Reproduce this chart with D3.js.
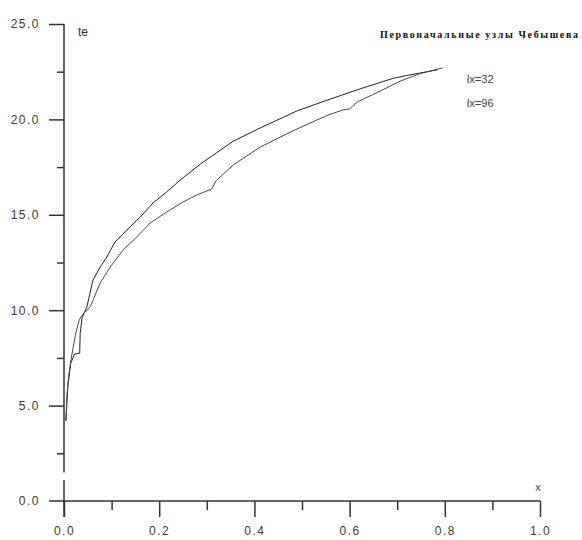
<!DOCTYPE html>
<html>
<head>
<meta charset="utf-8">
<script src="https://cdn.jsdelivr.net/npm/d3@7"></script>
<style>
  body { margin: 0; background: #fff; }
</style>
</head>
<body>
<div id="graf"></div>
<script>
// Кривые te(x), узлы Чебышева

// Данные
lx32_x = [0.004, 0.008, 0.014, 0.022, 0.033, 0.034, 0.038, 0.048, 0.061, 0.076, 0.090, 0.107, 0.132, 0.160, 0.187, 0.216, 0.244, 0.286, 0.355, 0.412, 0.490, 0.552, 0.622, 0.691, 0.720, 0.763, 0.785]
lx32_y = [4.2, 6.0, 7.2, 7.7, 7.75, 8.8, 9.6, 10.17, 11.58, 12.26, 12.79, 13.57, 14.2, 14.88, 15.62, 16.2, 16.82, 17.65, 18.85, 19.55, 20.45, 21.0, 21.6, 22.15, 22.3, 22.5, 22.6]

lx96_x = [0.004, 0.006, 0.010, 0.016, 0.024, 0.032, 0.040, 0.055, 0.076, 0.097, 0.124, 0.153, 0.181, 0.216, 0.250, 0.279, 0.300, 0.310, 0.320, 0.355, 0.412, 0.481, 0.552, 0.586, 0.600, 0.615, 0.657, 0.706, 0.748, 0.796]
lx96_y = [4.2, 5.5, 6.6, 7.6, 8.7, 9.5, 9.8, 10.17, 11.43, 12.26, 13.15, 13.84, 14.57, 15.15, 15.67, 16.04, 16.25, 16.35, 16.8, 17.6, 18.55, 19.4, 20.2, 20.5, 20.55, 20.9, 21.4, 22.0, 22.4, 22.7]

yMajor = [5, 10, 15, 20, 25]
yMinor = [2.5, 7.5, 12.5, 17.5, 22.5]
xMajor = [0, 0.2, 0.4, 0.6, 0.8, 1.0]
xMinor = [0.1, 0.3, 0.5, 0.7, 0.9]

leyenda = ['lx=32', 'lx=96']
titulo = 'Первоначальные узлы Чебышева'

ancho_total = 582
alto_total  = 540
colorEje = '#333333'

svg = d3.select('#graf').append('svg')
        .attr('width', ancho_total)
        .attr('height', alto_total)

x = d3.scaleLinear().domain([0, 1]).range([64, 540])
y = d3.scaleLinear().domain([0, 25]).range([501, 24])

fmt = d3.format('.1f')

// Eje Y (ticks mayores)
gy = svg.append('g')
        .attr('transform', `translate(${ x(0) }, 0)`)
        .call(d3.axisLeft(y).tickValues(yMajor).tickSize(15).tickPadding(9).tickFormat(fmt))
gy.select('.domain').remove()

// Eje Y (ticks menores)
gy2 = svg.append('g')
        .attr('transform', `translate(${ x(0) }, 0)`)
        .call(d3.axisLeft(y).tickValues(yMinor).tickSize(7).tickFormat(''))
gy2.select('.domain').remove()

// Eje X
gx = svg.append('g')
        .attr('transform', `translate(0, ${ y(0) })`)
        .call(d3.axisBottom(x).tickValues(xMajor).tickSize(16).tickPadding(9).tickFormat(fmt))
gx.select('.domain').remove()

gx2 = svg.append('g')
        .attr('transform', `translate(0, ${ y(0) })`)
        .call(d3.axisBottom(x).tickValues(xMinor).tickSize(9).tickFormat(''))
gx2.select('.domain').remove()

// etiqueta 0.0 del eje Y
svg.append('text')
  .attr('class', 'ylab')
  .attr('x', x(0) - 24)
  .attr('y', y(0))
  .attr('dy', '0.32em')
  .attr('text-anchor', 'end')
  .text(fmt(0))

// lineas de los ejes
svg.append('line')
  .attr('x1', x(0)).attr('x2', x(0))
  .attr('y1', y(25)).attr('y2', y(1.5))
  .attr('stroke', colorEje).attr('stroke-width', 1.5)
svg.append('line')
  .attr('x1', x(0)).attr('x2', x(0))
  .attr('y1', y(1.1)).attr('y2', y(0) + 16)
  .attr('stroke', colorEje).attr('stroke-width', 1.5)
svg.append('line')
  .attr('x1', x(0) - 15).attr('x2', x(1))
  .attr('y1', y(0)).attr('y2', y(0))
  .attr('stroke', colorEje).attr('stroke-width', 1.5)

svg.selectAll('.tick line')
  .attr('stroke', colorEje)
  .attr('stroke-width', 1.5)

svg.selectAll('.tick text, .ylab')
  .attr('font-family', 'Arial, "Liberation Sans", sans-serif')
  .attr('font-size', '12px')
  .attr('letter-spacing', '1.5px')
  .attr('fill', '#3a3a3a')

// Curvas
line = d3.line()
         .x(d => x(d[0]))
         .y(d => y(d[1]))

series = [
  { nombre: leyenda[0], pts: d3.zip(lx32_x, lx32_y), color: '#222' },
  { nombre: leyenda[1], pts: d3.zip(lx96_x, lx96_y), color: '#4a4a4a' }
]

svg.selectAll('path.curva')
  .data(series)
  .enter()
  .append('path')
    .attr('class', 'curva')
    .attr('d', d => line(d.pts))
    .attr('fill', 'none')
    .attr('stroke', d => d.color)
    .attr('stroke-width', 1)

// Textos
svg.append('text')
  .attr('x', 78).attr('y', 36)
  .attr('font-family', 'Arial, "Liberation Sans", sans-serif')
  .attr('font-size', '12px')
  .attr('fill', '#333')
  .text('te')

svg.append('text')
  .attr('x', 538).attr('y', 491)
  .attr('text-anchor', 'middle')
  .attr('font-family', 'Arial, "Liberation Sans", sans-serif')
  .attr('font-size', '11px')
  .attr('fill', '#444')
  .text('x')

svg.append('text')
  .attr('x', 380).attr('y', 38)
  .attr('font-family', '"Liberation Serif", "DejaVu Serif", serif')
  .attr('font-size', '10px')
  .attr('font-weight', 'bold')
  .attr('textLength', 198)
  .attr('lengthAdjust', 'spacing')
  .attr('fill', '#111')
  .text(titulo)

svg.selectAll('text.leyenda')
  .data(leyenda)
  .enter()
  .append('text')
    .attr('class', 'leyenda')
    .attr('x', 467)
    .attr('y', (d, i) => 83 + i * 24)
    .attr('font-family', 'Arial, "Liberation Sans", sans-serif')
    .attr('font-size', '11px')
    .attr('fill', '#444')
    .text(d => d)
</script>
</body>
</html>
